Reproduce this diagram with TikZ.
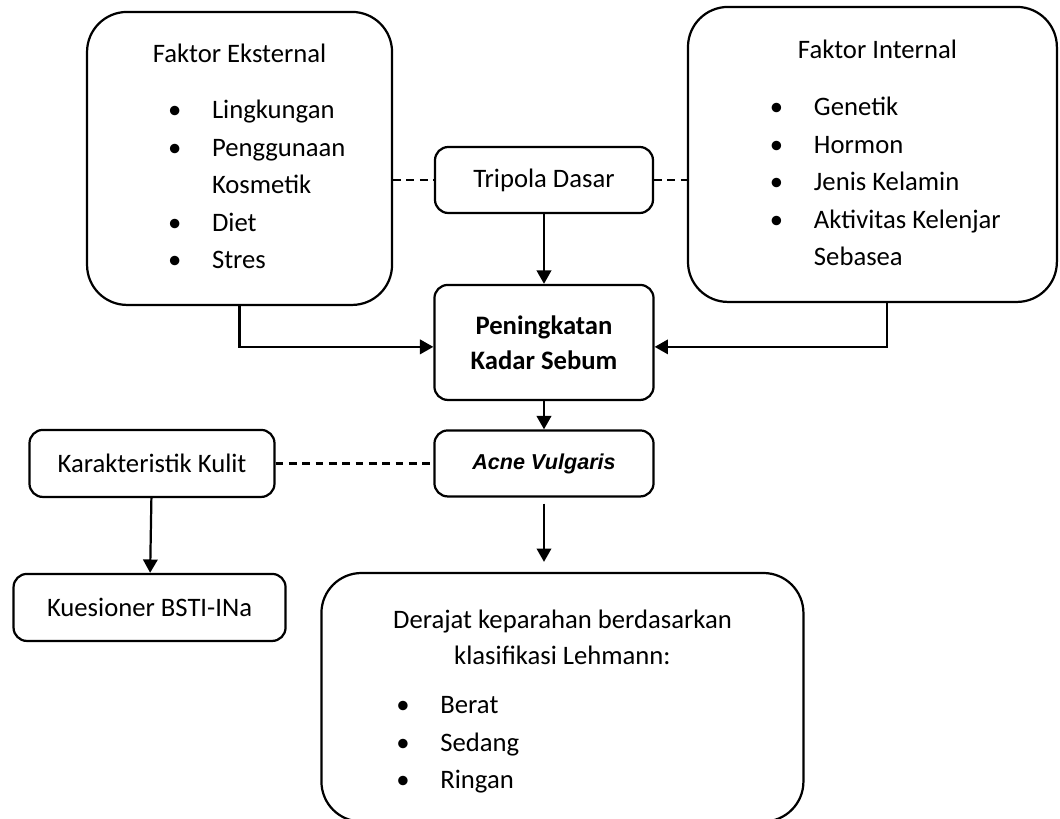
\documentclass[tikz,border=0pt]{standalone}
\usepackage{fontspec}
\setmainfont{Carlito}
\newfontfamily\arialfont{Liberation Sans}
\usetikzlibrary{arrows.meta}
\newcommand{\bul}{\makebox[19.8pt][l]{\textbullet}}

\begin{document}
\begin{tikzpicture}[node distance=2cm, >={Triangle[length=6pt,width=6.5pt]}, line width=1pt, font=\fontsize{12}{16.9}\selectfont]
    \tikzstyle{box} = [draw, rounded corners=6pt, align=center]
    \tikzstyle{bigbox} = [draw, rounded corners=18pt]
    \tikzstyle{title} = [align=center, inner sep=0pt, anchor=base]
    \tikzstyle{list} = [align=left, inner sep=0pt, anchor=base west]
    \tikzstyle{dashline} = [dash pattern=on 3.5pt off 2.5pt]

    \useasboundingbox (-244.8pt,-287.55pt) rectangle (232.2pt,81pt);

    \node [box, minimum width=98.1pt, minimum height=29.7pt] (tripola) {Tripola Dasar};
    \node [box, below of=tripola, node distance=73.1pt, minimum width=98.6pt, minimum height=51.75pt, font=\fontsize{12}{15.75}\selectfont\bfseries] (sebum) {Peningkatan\\Kadar Sebum};
    \node [box, below of=sebum, node distance=54.45pt, minimum width=98.6pt, minimum height=29.7pt, font=\arialfont\fontsize{9.7}{12}\selectfont\bfseries\itshape] (acne) {Acne Vulgaris};
    \node [box, left of=acne, node distance=176.4pt, minimum width=110.25pt, minimum height=30.15pt] (kulit) {Karakteristik Kulit};
    \node [box, below of=kulit, node distance=64.8pt, xshift=-1.1pt, minimum width=122.4pt, minimum height=30.15pt] (bsti) {Kuesioner BSTI-INa};
    \node [bigbox, below of=acne, node distance=105.23pt, xshift=8.3pt, minimum width=216.9pt, minimum height=111.85pt] (derajat) {};
    \node [bigbox, left of=tripola, node distance=137pt, yshift=9.7pt, minimum width=137.25pt, minimum height=131.85pt] (eksternal) {};
    \node [bigbox, right of=tripola, node distance=147.8pt, yshift=11.5pt, minimum width=166pt, minimum height=132.75pt] (internal) {};

    \node [title] (eksT) at ([yshift=-23.4pt]eksternal.north) {Faktor Eksternal};
    \node [list] (eksL) at ([xshift=36.45pt, yshift=-116.1pt]eksternal.north west) {\bul Lingkungan\\\bul Penggunaan\\\hspace*{19.8pt}Kosmetik\\\bul Diet\\\bul Stres};
    \node [title] (intT) at ([xshift=2.25pt, yshift=-23.85pt]internal.north) {Faktor Internal};
    \node [list] (intL) at ([xshift=36.9pt, yshift=-117pt]internal.north west) {\bul Genetik\\\bul Hormon\\\bul Jenis Kelamin\\\bul Aktivitas Kelenjar\\\hspace*{19.8pt}Sebasea};
    \node [title, font=\fontsize{12}{16.2}\selectfont] (derT) at ([yshift=-41.85pt]derajat.north) {Derajat keparahan berdasarkan\\klasifikasi Lehmann:};
    \node [list] (derL) at ([xshift=33.75pt, yshift=-97.65pt]derajat.north west) {\bul Berat\\\bul Sedang\\\bul Ringan};

    \draw [dashline] (tripola.west -| eksternal.east) -- (tripola.west);
    \draw [dashline] (tripola.east) -- (tripola.east -| internal.west);
    \draw [dashline] (kulit) -- (acne);
    \draw [->] (tripola) -- (sebum);
    \draw [->] (eksternal) |- ([yshift=-2pt]sebum.west);
    \draw [->] ([xshift=6.5pt]internal.south) |- ([yshift=-2pt]sebum.east);
    \draw [->] (sebum) -- (acne);
    \draw [->, shorten <=2.7pt, shorten >=4.5pt] (acne.south) -- (acne.south |- derajat.north);
    \draw [->] (kulit) -- (bsti);
\end{tikzpicture}
\end{document}
